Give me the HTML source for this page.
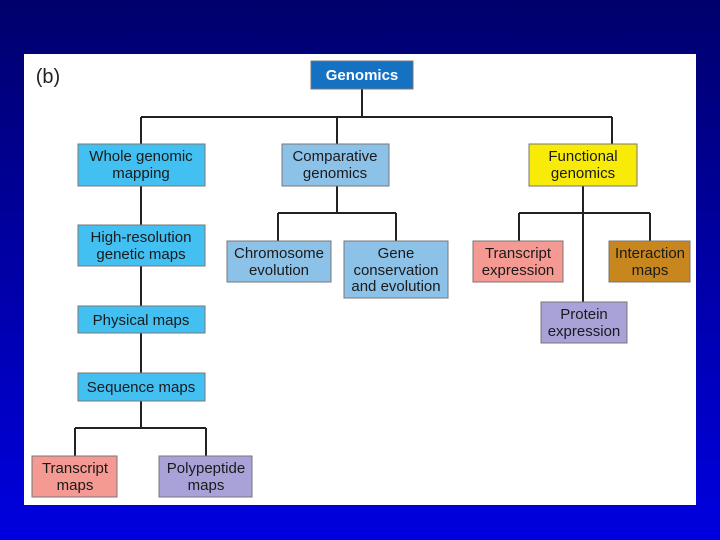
<!DOCTYPE html>
<html><head><meta charset="utf-8"><style>
html,body{margin:0;padding:0;width:720px;height:540px;overflow:hidden}
body{background:linear-gradient(#00006c,#0000e0);}
svg{position:absolute;left:0;top:0}
text{font-family:"Liberation Sans",sans-serif;font-size:15px;text-anchor:middle;fill:#1a1a1a}
</style></head><body>
<svg width="720" height="540" viewBox="0 0 720 540">
<rect x="24" y="54" width="672" height="451" fill="#fff"/>
<text x="48" y="83" style="font-size:20px;fill:#222">(b)</text>
<g stroke="#222" stroke-width="2" fill="none">
<path d="M362 89V117M141 117H612M141 117V144M337 117V144M612 117V144"/>
<path d="M337 186V213M278 213H396M278 213V241M396 213V241"/>
<path d="M583 186V302M519 213H650M519 213V241M650 213V241"/>
<path d="M141 186V306M141 333V373M141 401V428M75 428H206M75 428V456M206 428V456"/>
</g>
<g stroke="#777" stroke-width="1">
<rect x="311" y="61" width="102" height="28" fill="#1572c2"/>
<rect x="78" y="144" width="127" height="42" fill="#42c0f2"/>
<rect x="282" y="144" width="107" height="42" fill="#8dc2e8"/>
<rect x="529" y="144" width="108" height="42" fill="#f9eb08"/>
<rect x="78" y="225" width="127" height="41" fill="#42c0f2"/>
<rect x="227" y="241" width="104" height="41" fill="#8dc2e8"/>
<rect x="344" y="241" width="104" height="57" fill="#8dc2e8"/>
<rect x="473" y="241" width="90" height="41" fill="#f49a92"/>
<rect x="609" y="241" width="81" height="41" fill="#c8861f"/>
<rect x="541" y="302" width="86" height="41" fill="#a8a2d9"/>
<rect x="78" y="306" width="127" height="27" fill="#42c0f2"/>
<rect x="78" y="373" width="127" height="28" fill="#42c0f2"/>
<rect x="32" y="456" width="85" height="41" fill="#f49a92"/>
<rect x="159" y="456" width="93" height="41" fill="#a8a2d9"/>
</g>
<text x="362" y="80" style="fill:#fff;font-weight:bold">Genomics</text>
<text x="141" y="161">Whole genomic</text><text x="141" y="178">mapping</text>
<text x="335" y="161">Comparative</text><text x="335" y="178">genomics</text>
<text x="583" y="161">Functional</text><text x="583" y="178">genomics</text>
<text x="141" y="242">High-resolution</text><text x="141" y="259">genetic maps</text>
<text x="279" y="258">Chromosome</text><text x="279" y="275">evolution</text>
<text x="396" y="258">Gene</text><text x="396" y="275">conservation</text><text x="396" y="291">and evolution</text>
<text x="518" y="258">Transcript</text><text x="518" y="275">expression</text>
<text x="650" y="258">Interaction</text><text x="650" y="275">maps</text>
<text x="584" y="319">Protein</text><text x="584" y="336">expression</text>
<text x="141" y="325">Physical maps</text>
<text x="141" y="392">Sequence maps</text>
<text x="75" y="473">Transcript</text><text x="75" y="490">maps</text>
<text x="206" y="473">Polypeptide</text><text x="206" y="490">maps</text>
</svg>
</body></html>
